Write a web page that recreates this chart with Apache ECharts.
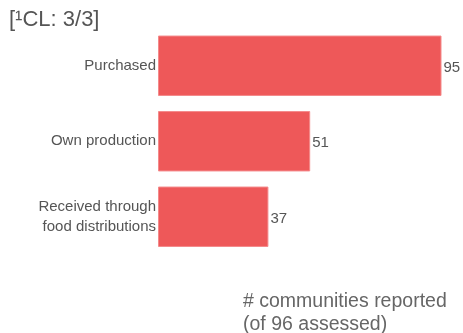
<!DOCTYPE html>
<html><head><meta charset="utf-8">
<script src="https://cdn.jsdelivr.net/npm/echarts@6/dist/echarts.min.js"></script>
<style>html,body{margin:0;padding:0;background:#fff}#c{width:463px;height:333px}</style>
</head><body><div id="c"></div>
<script>
const categories = ['Purchased', 'Own production', 'Received through\nfood distributions'];
const values = [95, 51, 37];
const titleText = '[\u00B9CL: 3/3]';
const axisTitle = '# communities reported\n(of 96 assessed)';

const chart = echarts.init(document.getElementById('c'));
chart.setOption({
  animation: false,
  textStyle: { fontFamily: 'Liberation Sans, Arial, sans-serif' },
  title: {
    text: titleText, left: 4, top: 4,
    textStyle: { fontSize: 22, fontWeight: 'normal', color: '#555' }
  },
  grid: { left: 158, right: 21.5, top: 28, bottom: 78.5, containLabel: false },
  xAxis: {
    type: 'value', min: 0, max: 95, show: false
  },
  yAxis: {
    type: 'category', data: categories, inverse: true,
    axisLine: { show: false }, axisTick: { show: false },
    axisLabel: { fontSize: 15, color: '#555', margin: 2, lineHeight: 20, verticalAlign: 'middle', padding: [4, 0, 0, 0], backgroundColor: 'transparent' }
  },
  series: [{
    type: 'bar', data: values, barCategoryGap: '20%',
    itemStyle: { color: '#EE5859', borderColor: '#F48A8B', borderWidth: 1 },
    label: { show: true, position: 'right', distance: 2, offset: [0, 2], fontSize: 15, color: '#555' }
  }],
  graphic: [{
    type: 'text', left: 243, top: 290,
    style: { text: axisTitle, fontSize: 19.5, lineHeight: 23, fill: '#666', fontFamily: 'Liberation Sans, Arial, sans-serif' }
  }]
});
</script></body></html>
